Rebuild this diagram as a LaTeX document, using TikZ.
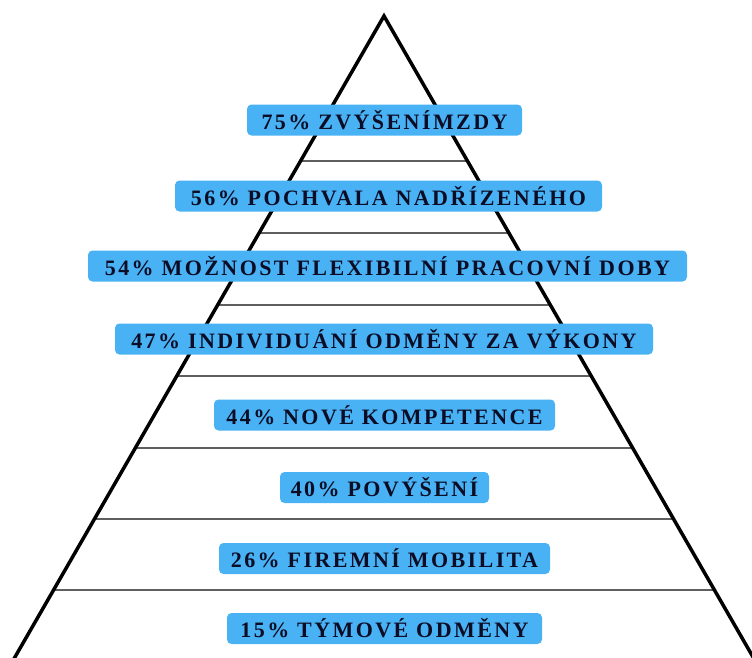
\documentclass[tikz,border=0pt]{standalone}
\usepackage{fontspec}
\usetikzlibrary{calc}
\newfontfamily\labfont{Liberation Serif}[LetterSpace=11]
\definecolor{boxblue}{RGB}{72,178,245}
\definecolor{labtext}{RGB}{12,12,36}
\definecolor{rulegray}{RGB}{95,95,95}
\tikzset{
  lab/.style={fill=boxblue, rounded corners=4.5pt, minimum height=31pt, inner xsep=0pt,
    inner ysep=0pt, text=labtext, font=\labfont\bfseries\fontsize{22}{24}\selectfont, anchor=center},
  edge/.style={line width=3.5pt, black},
  tier/.style={line width=1.6pt, rulegray}
}
\begin{document}
\begin{tikzpicture}[x=1pt,y=-1pt]
\useasboundingbox (0,0) rectangle (752,657);
\clip (0,0) rectangle (752,657);
\coordinate (apex) at (384,16);
\coordinate (bl) at (15,657);
\coordinate (br) at (753,657);
\coordinate (blx) at ($(apex)!1.05!(bl)$);
\coordinate (brx) at ($(apex)!1.05!(br)$);
% tier lines
\foreach \yy in {161,233,305,376,448,519,590} {
  \pgfmathsetmacro{\tt}{(\yy-16)/641}
  \draw[tier] ($(apex)!\tt!(bl)$) -- ($(apex)!\tt!(br)$);
}
\draw[edge, line join=miter] (blx) -- (apex) -- (brx);
% labels
\node[lab, minimum width=275pt] (l75) at (384.5,120) {75\% ZVÝŠENÍMZDY};
\node[lab, minimum width=427pt] (l56) at (388.5,196) {56\% POCHVALA NADŘÍZENÉHO};
\node[lab, minimum width=599pt] (l54) at (387.5,266) {54\% MOŽNOST FLEXIBILNÍ PRACOVNÍ DOBY};
\node[lab, minimum width=538pt] (l47) at (384,339) {47\% INDIVIDUÁNÍ ODMĚNY ZA VÝKONY};
\node[lab, minimum width=341pt] (l44) at (384.5,415) {44\% NOVÉ KOMPETENCE};
\node[lab, minimum width=209pt] (l40) at (384.5,487.5) {40\% POVÝŠENÍ};
\node[lab, minimum width=331pt] (l26) at (384.5,558.5) {26\% FIREMNÍ MOBILITA};
\node[lab, minimum width=315pt] (l15) at (384.5,628.5) {15\% TÝMOVÉ ODMĚNY};
\end{tikzpicture}
\end{document}
